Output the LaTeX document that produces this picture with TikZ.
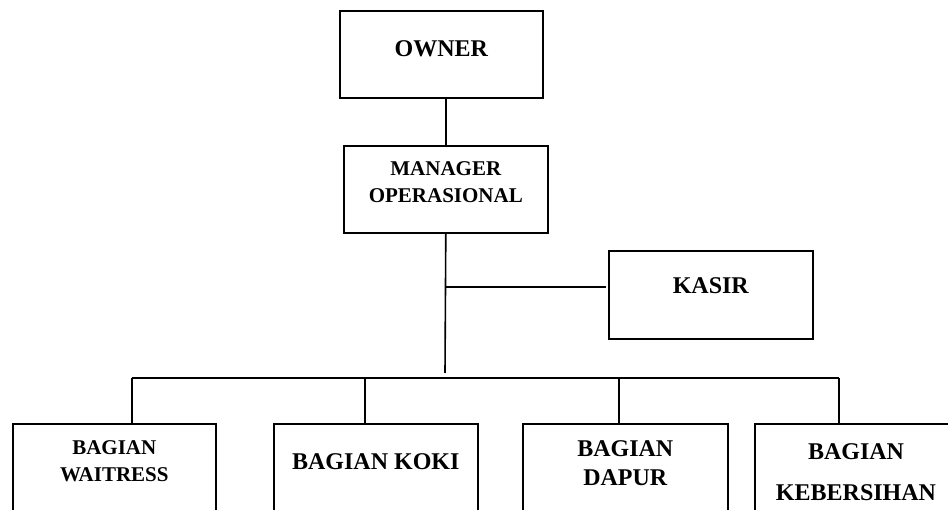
\documentclass[tikz,border=0pt]{standalone}
\usepackage{fontspec}
\setmainfont{Liberation Serif}
\usetikzlibrary{positioning}
\begin{document}
\begin{tikzpicture}[x=1pt,y=-1pt,color={black},
   kotak/.style={draw,line width=1.6pt,minimum width=203pt,minimum height=87pt,anchor=north west,inner sep=0pt},
   judul/.style={font=\bfseries\fontsize{24}{29}\selectfont,align=center,inner sep=0pt,anchor=north},
   judulkecil/.style={font=\bfseries\fontsize{21}{27}\selectfont,align=center,inner sep=0pt,anchor=north},
   garis/.style={line width=1.6pt}]
   \useasboundingbox (0,0) rectangle (948,510);
   % kotak jabatan
   \node[kotak] (owner) at (339,10) {};
   \node[kotak,minimum width=204pt] (manager) at (343,145) {};
   \node[kotak,minimum width=204pt,minimum height=88pt] (kasir) at (608,250) {};
   \node[kotak,minimum height=89pt] (waitress) at (12,423) {};
   \node[kotak,minimum width=204pt,minimum height=89pt] (koki) at (273,423) {};
   \node[kotak,minimum width=205pt,minimum height=89pt] (dapur) at (522,423) {};
   \node[kotak,minimum width=230pt,minimum height=89pt] (kebersihan) at (754,423) {};
   % tulisan
   \node[judul,below=30pt of owner.north] (ownerT) {OWNER};
   \node[judulkecil,below=16pt of manager.north] (managerT) {MANAGER\\OPERASIONAL};
   \node[judul,below=27pt of kasir.north] (kasirT) {KASIR};
   \node[judulkecil,below=17pt of waitress.north] (waitressT) {BAGIAN\\WAITRESS};
   \node[judul,below=30pt of koki.north] (kokiT) {BAGIAN KOKI};
   \node[judul,below=17pt of dapur.north] (dapurT) {BAGIAN\\DAPUR};
   \node[judul,font=\bfseries\fontsize{24}{41}\selectfont,anchor=north] (kebersihanT) at (856,443) {BAGIAN\\KEBERSIHAN};
   % garis
   \coordinate (batang) at (445,373);
   \coordinate (kasirIn) at (606,287);
   \coordinate (busKiri) at (132,378);
   \coordinate (busKanan) at (839,378);
   \draw[garis] (owner.south -| manager.north) -- (manager.north);
   \draw[garis] (manager.south) -- (batang);
   \draw[garis] (kasirIn -| manager.south) -- (kasirIn);
   \draw[garis] (busKiri) -- (busKanan);
   \foreach \x/\b in {132/waitress,365/koki,619/dapur,839/kebersihan}
      \draw[garis] (\x,378) -- (\b.north -| \x,378);
\end{tikzpicture}
\end{document}
